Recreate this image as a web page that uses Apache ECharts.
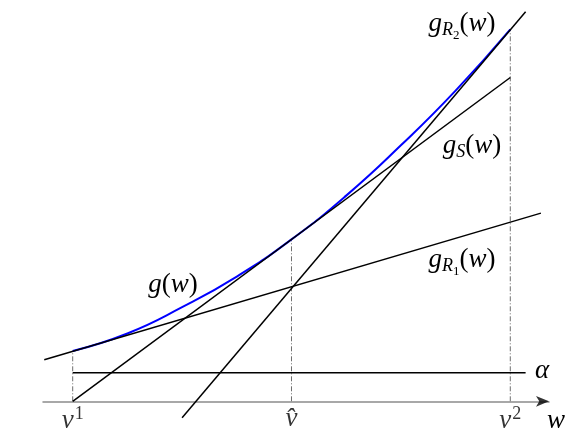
<!DOCTYPE html>
<html><head><meta charset="utf-8">
<script src="https://cdn.jsdelivr.net/npm/echarts@6/dist/echarts.min.js"></script>
<style>html,body{margin:0;padding:0;background:#fff}#c{width:584px;height:438px}</style>
</head><body><div id="c"></div>
<script>
// ---- data (w on the horizontal axis, value on the vertical) ----
const curveW = [1, 1.25, 1.5, 1.75, 2, 2.25, 2.5, 2.75, 3];
const curveG = [0.23, 0.31, 0.43, 0.57, 0.74, 0.94, 1.17, 1.42, 1.70];
const lineR1 = [[0.87, 0.19], [3.14, 0.86]];
const lineS = [[1, 0], [3, 1.48]];
const lineR2 = [[1.50, -0.075], [3.07, 1.78]];
const alphaLine = [[1, 0.13], [3.07, 0.13]];
const tickValues = [1, 2, 3];
const tickLabels = ['{i|v}{sup|1}', '{i|v\u0302}', '{i|v}{sup|2}'];
const curveAtTicks = [0.23, 0.74, 1.70];
const axisEnd = 3.1769;
const axisName = 'w';
const labelR2 = '{i|g}{sub|R}{sub2|2}{n|(}{i|w}{n|)}';
const labelS = '{i|g}{sub|S}{n|(}{i|w}{n|)}';
const labelR1 = '{i|g}{sub|R}{sub2|1}{n|(}{i|w}{n|)}';
const labelG = '{i|g}{n|(}{i|w}{n|)}';
const labelAlpha = '{i|\u03b1}';

const FF = 'Liberation Serif';
const FS = 27;
const rich = {
  i: {fontFamily: FF, fontStyle: 'italic', fontSize: FS, color: '#000'},
  n: {fontFamily: FF, fontStyle: 'normal', fontSize: FS, color: '#000'},
  sup: {fontFamily: FF, fontStyle: 'normal', fontSize: 18, color: '#000', padding: [0, 0, 14, 1]},
  sub: {fontFamily: FF, fontStyle: 'italic', fontSize: 18, color: '#000', padding: [12, 0, 0, 0]},
  sub2: {fontFamily: FF, fontStyle: 'normal', fontSize: 13, color: '#000', padding: [24, 0, 0, 0]}
};

const chart = echarts.init(document.getElementById('c'), null, {renderer: 'canvas'});
const blackLine = (data, z) => ({
  type: 'line', data: data, symbol: 'none', z: z || 3, silent: true,
  lineStyle: {color: '#000', width: 1.5}
});
const verticals = tickValues.map((v, k) => ({
  type: 'line', data: [[v, 0], [v, curveAtTicks[k]]], symbol: 'none', z: 1, silent: true,
  lineStyle: {color: '#6e6e6e', width: 1, type: [5, 2, 1, 2]}
}));

chart.setOption({
  animation: false,
  backgroundColor: '#fff',
  grid: {left: 43, right: 35, top: 0, bottom: 0, containLabel: false, outerBoundsMode: 'none'},
  xAxis: {
    type: 'value', min: 0.8643, max: axisEnd,
    splitLine: {show: false},
    axisTick: {show: false},
    axisLabel: {show: false},
    axisLine: {onZero: true, lineStyle: {color: '#8c8c8c', width: 1.5}},
    name: axisName,
    nameLocation: 'end',
    nameGap: 0,
    nameTextStyle: {fontFamily: FF, fontStyle: 'italic', fontSize: FS, color: '#000', align: 'center', verticalAlign: 'top', padding: [6, 0, 0, 14]}
  },
  yAxis: {type: 'value', min: -0.1677, max: 1.8341, show: false},
  series: [
    ...verticals,
    {type: 'line', data: curveW.map((w, k) => [w, curveG[k]]), smooth: true, symbol: 'none', z: 2, silent: true,
     lineStyle: {color: '#0000ff', width: 2}},
    blackLine(lineR1), blackLine(lineS), blackLine(lineR2), blackLine(alphaLine),
    {type: 'scatter', data: tickValues.map(v => [v, 0]), symbolSize: 0, silent: true, z: 5,
     label: {show: true, position: 'bottom', distance: 4, formatter: (p) => tickLabels[p.dataIndex], rich: rich}},
    {type: 'scatter', data: [[axisEnd, 0]], symbol: 'arrow', symbolSize: [8, 13], symbolRotate: -90,
     itemStyle: {color: '#000'}, silent: true, z: 6}
  ],
  graphic: [
    {type: 'text', x: 462, y: 24, style: {text: labelR2, rich: rich, align: 'center', verticalAlign: 'middle'}},
    {type: 'text', x: 472, y: 146, style: {text: labelS, rich: rich, align: 'center', verticalAlign: 'middle'}},
    {type: 'text', x: 462, y: 260, style: {text: labelR1, rich: rich, align: 'center', verticalAlign: 'middle'}},
    {type: 'text', x: 173, y: 285, style: {text: labelG, rich: rich, align: 'center', verticalAlign: 'middle'}},
    {type: 'text', x: 535, y: 371, style: {text: labelAlpha, rich: rich, align: 'left', verticalAlign: 'middle'}}
  ]
});
</script></body></html>
